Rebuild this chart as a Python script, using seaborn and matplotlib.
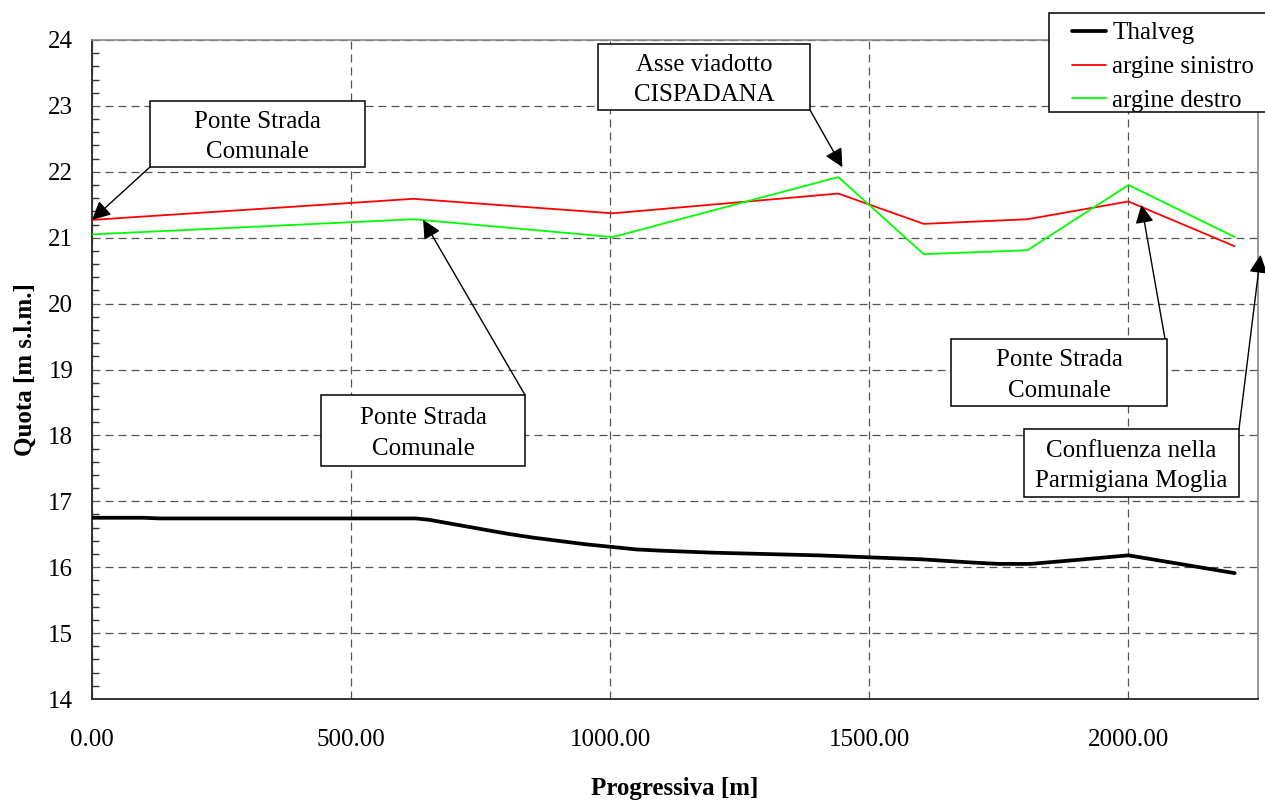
import numpy as np
import pandas as pd
import seaborn as sns
import matplotlib.pyplot as plt
from matplotlib.patches import Rectangle
from matplotlib.ticker import MultipleLocator, FormatStrFormatter

# profilo longitudinale
prog_thalveg = [0, 100, 130, 625, 650, 700, 750, 800, 850, 900, 950, 1000, 1050, 1100,
                1200, 1300, 1400, 1500, 1600, 1700, 1750, 1810, 1900, 2000, 2205]
quota_thalveg = [16.75, 16.75, 16.74, 16.74, 16.72, 16.65, 16.58, 16.51, 16.45, 16.40, 16.35,
                 16.31, 16.27, 16.25, 16.22, 16.20, 16.18, 16.15, 16.12, 16.07, 16.05, 16.05,
                 16.11, 16.18, 15.91]

prog_argini = [0, 620, 1005, 1440, 1605, 1805, 2000, 2205]
quota_sinistro = [21.27, 21.59, 21.37, 21.67, 21.21, 21.28, 21.55, 20.87]
quota_destro = [21.05, 21.28, 21.01, 21.92, 20.75, 20.81, 21.80, 21.01]

# testo delle note e punti indicati dalle frecce
note_testi = ["Ponte Strada\nComunale", "Ponte Strada\nComunale", "Asse viadotto\nCISPADANA",
              "Ponte Strada\nComunale", "Confluenza nella\nParmigiana Moglia"]
note_punti = [(0, 21.27), (639, 21.27), (1448, 22.07), (2025, 21.5), (2255, 20.74)]

W, H = 1265, 802
def P(x, y):
    return (x / W, 1 - y / H)

# box delle note in pixel (x0, y0, x1, y1) e angolo da cui parte la freccia
note_box = [(150, 101, 365, 167), (321, 395, 525, 466), (598, 44, 810, 110),
            (951, 339, 1167, 406), (1024, 429, 1239, 497)]
note_coda = [(150, 167), (525, 395), (810, 110), (1165, 339), (1239, 429)]

sns.set_theme(style="white")
plt.rcParams['font.family'] = ['Liberation Serif', 'DejaVu Serif']
plt.rcParams['font.size'] = 18
plt.rcParams['text.color'] = 'black'
plt.rcParams['axes.labelcolor'] = 'black'

fig = plt.figure(figsize=(W / 100, H / 100), dpi=100)
ax = fig.add_axes([92 / W, 1 - 699 / H, (1258 - 92) / W, (699 - 40) / H])

sns.lineplot(x=prog_thalveg, y=quota_thalveg, ax=ax, color='black', lw=2.7,
             label='Thalveg', sort=False, zorder=3)
sns.lineplot(x=prog_argini, y=quota_sinistro, ax=ax, color='#ff0000', lw=1.3,
             label='argine sinistro', sort=False, zorder=3)
sns.lineplot(x=prog_argini, y=quota_destro, ax=ax, color='#00ff00', lw=1.3,
             label='argine destro', sort=False, zorder=3)

ax.set_xlim(0, 2250)
ax.set_ylim(14, 24)
ax.xaxis.set_major_locator(MultipleLocator(500))
ax.xaxis.set_major_formatter(FormatStrFormatter('%.2f'))
ax.yaxis.set_major_locator(MultipleLocator(1))
ax.yaxis.set_minor_locator(MultipleLocator(0.2))

ax.grid(True, which='major', color='#555555', lw=0.9, linestyle=(0, (6.4, 4.0)))
ax.set_axisbelow(True)

for s in ['left', 'bottom']:
    ax.spines[s].set_color('#333333')
    ax.spines[s].set_linewidth(1.4)
for s in ['top', 'right']:
    ax.spines[s].set_color('#888888')
    ax.spines[s].set_linewidth(1.2)

ax.tick_params(axis='both', which='major', direction='inout', length=11, width=1,
               color='#333333', labelsize=18, labelcolor='black')
ax.tick_params(axis='x', which='major', pad=16)
ax.tick_params(axis='y', which='major', pad=8)
ax.tick_params(axis='y', which='minor', direction='in', length=5, width=1,
               color='#333333', left=True)

ax.set_xlabel('Progressiva [m]', fontsize=18, fontweight='bold', labelpad=19)
ax.set_ylabel('Quota [m s.l.m.]', fontsize=18, fontweight='bold', labelpad=8)

# note con frecce
for testo, punto, box, coda in zip(note_testi, note_punti, note_box, note_coda):
    x0, y0, x1, y1 = box
    bl = P(x0, y1)
    rect = Rectangle(bl, (x1 - x0) / W, (y1 - y0) / H, transform=fig.transFigure,
                     facecolor='white', edgecolor='black', lw=1.1, zorder=3)
    fig.add_artist(rect)
    cx, cy = P((x0 + x1) / 2, (y0 + y1) / 2 + 3)
    fig.text(cx, cy, testo, ha='center', va='center', fontsize=18, color='black',
             linespacing=1.5, zorder=4)
    ax.annotate('', xy=punto, xycoords='data', xytext=P(*coda),
                textcoords='figure fraction', annotation_clip=False,
                arrowprops=dict(arrowstyle='-|>', color='black', lw=1,
                                mutation_scale=28, shrinkA=0, shrinkB=0))

# legenda
handles, labels = ax.get_legend_handles_labels()
ax.get_legend().remove()
frame = Rectangle(P(1049, 112), (1300 - 1049) / W, (112 - 13) / H, transform=fig.transFigure,
                  facecolor='white', edgecolor='black', lw=1.1, zorder=3)
fig.add_artist(frame)
leg = fig.legend(handles, labels, loc='upper left', bbox_to_anchor=P(1072, 22),
                 frameon=False, borderpad=0, borderaxespad=0, handlelength=1.36,
                 handletextpad=0.25, labelspacing=0.45, fontsize=18)
leg.set_zorder(5)
for t in leg.get_texts():
    t.set_color('black')

fig.savefig('out.png', dpi=100)
